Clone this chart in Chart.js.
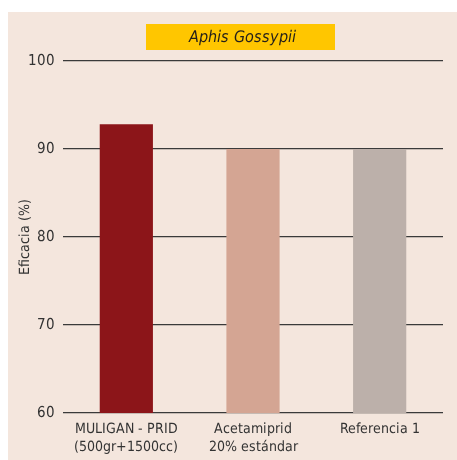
<!DOCTYPE html>
<html><head><meta charset="utf-8">
<script src="https://cdn.jsdelivr.net/npm/chart.js@4"></script>
<style>
@font-face{font-family:'CondA';src:local('DejaVu Sans Condensed'),local('DejaVuSansCondensed');}
@font-face{font-family:'CondA';font-style:italic;src:local('DejaVu Sans Condensed Oblique'),local('DejaVuSansCondensed-Oblique');}
html,body{margin:0;padding:0;background:#fff}#wrap{width:457px;height:460px}</style>
</head><body><div id="wrap"><canvas id="c" width="457" height="460"></canvas></div>
<script>
const categories = [["MULIGAN - PRID","(500gr+1500cc)"],["Acetamiprid","20% estándar"],["Referencia 1"]];
const values = [92.8, 90, 90];
const barColors = ["#8c1519","#d4a593","#bcb0aa"];
const yTicks = [60,70,80,90,100];
const titleText = "Aphis Gossypii";
const yTitle = "Eficacia (%)";
const FONT = "CondA, 'DejaVu Sans', sans-serif";

const bgPlugin = {
  id:'bg',
  beforeDraw(chart){
    const ctx = chart.ctx;
    ctx.save();
    ctx.fillStyle = '#f4e6dd';
    ctx.fillRect(8,12,chart.width-8,chart.height-12);
    ctx.fillStyle = '#ffc600';
    ctx.fillRect(146,24,189,26);
    ctx.fillStyle = '#231f1a';
    ctx.font = "italic 16px " + FONT;
    ctx.textAlign = 'center';
    ctx.textBaseline = 'middle';
    ctx.fillText(titleText, 242, 37.5);
    ctx.restore();
  }
};

function make(){
new Chart(document.getElementById('c'), {
  type:'bar',
  data:{labels:categories, datasets:[{data:values, backgroundColor:barColors, barPercentage:0.42, categoryPercentage:1}]},
  options:{
    responsive:false, animation:false, devicePixelRatio:1,
    layout:{padding:{left:17,right:14,top:61,bottom:0}},
    plugins:{legend:{display:false}, tooltip:{enabled:false}},
    scales:{
      x:{
        grid:{display:false}, border:{display:false},
        ticks:{color:'#333', font:{family:FONT, size:14, lineHeight:1.25}, padding:0, maxRotation:0, autoSkip:false},
        afterFit(s){ s.height = 47; }
      },
      y:{
        min:60, max:100,
        afterBuildTicks(s){ s.ticks = yTicks.map(v=>({value:v})); },
        grid:{color:'#3a3a3a', lineWidth:1.3, drawTicks:false},
        border:{display:false},
        ticks:{color:'#333', font:{family:FONT, size:15}, padding:8},
        title:{display:true, text:yTitle, color:'#333', font:{family:FONT, size:14}, padding:0},
        afterFit(s){ s.width = 46; }
      }
    }
  },
  plugins:[bgPlugin]
});
}
Promise.all([document.fonts.load('15px CondA'),document.fonts.load('italic 16px CondA')]).then(make,make);
</script></body></html>
